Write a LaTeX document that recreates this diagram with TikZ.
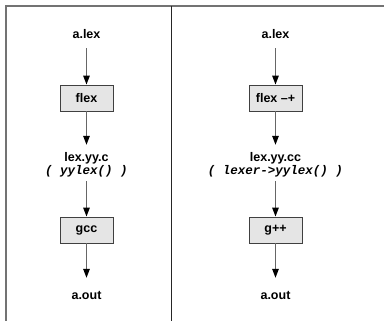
\documentclass[tikz,border=0pt]{standalone}
\usepackage{fontspec}
\setmainfont{Liberation Sans}
\setmonofont{Liberation Mono}
\usetikzlibrary{arrows.meta}
\begin{document}
\begin{tikzpicture}[x=1pt,y=-1pt,
  lbl/.style={font=\bfseries\fontsize{12.5}{14}\selectfont, inner sep=0pt,
    text height=9pt, text depth=0pt, anchor=base},
  code/.style={font=\ttfamily\bfseries\itshape\fontsize{12.5}{14}\selectfont,
    inner sep=0pt, text height=9pt, text depth=0pt, anchor=base},
  tool/.style={draw=black!75, fill=black!10, line width=0.9pt,
    minimum width=53pt, minimum height=26pt, inner sep=0pt,
    font=\bfseries\fontsize{12.5}{14}\selectfont},
  flow/.style={draw=black!60, line width=1.2pt,
    -{Triangle[length=9pt,width=6.5pt,color=black]}},
  frame/.style={draw=black!55, line width=2pt}
]
\useasboundingbox (0,0) rectangle (384,321);

% table rules
\draw[frame] (6,321) -- (6,6) -- (384,6);
\draw[black!85, line width=1pt] (171,6) -- (171,321);

% C pipeline
\node[lbl]  (lsrc)  at (86.5,39)  {a.lex};
\node[tool] (lflex) at (86.5,98)  {flex};
\node[lbl]  (lgen)  at (86.5,162) {lex.yy.c};
\node[code] (lcall) at (86.5,175) {( yylex() )};
\node[tool] (lcc)   at (86.5,230) {gcc};
\node[lbl]  (lout)  at (86.5,300) {a.out};

\draw[flow, shorten <=9pt] (lsrc.south) -- (lflex.north);
\draw[flow, shorten >=8pt] (lflex.south) -- (lgen.north);
\draw[flow, shorten <=6pt] (lcall.south) -- (lcc.north);
\draw[flow, shorten >=13pt] (lcc.south) -- (lout.north);

% C++ pipeline
\node[lbl]  (rsrc)  at (275.5,39)  {a.lex};
\node[tool] (rflex) at (275.5,98)  {flex –+};
\node[lbl]  (rgen)  at (275.5,162) {lex.yy.cc};
\node[code] (rcall) at (275.5,175) {( lexer->yylex() )};
\node[tool] (rcc)   at (275.5,230) {g++};
\node[lbl]  (rout)  at (275.5,300) {a.out};

\draw[flow, shorten <=9pt] (rsrc.south) -- (rflex.north);
\draw[flow, shorten >=8pt] (rflex.south) -- (rgen.north);
\draw[flow, shorten <=6pt] (rcall.south) -- (rcc.north);
\draw[flow, shorten >=13pt] (rcc.south) -- (rout.north);
\end{tikzpicture}
\end{document}
